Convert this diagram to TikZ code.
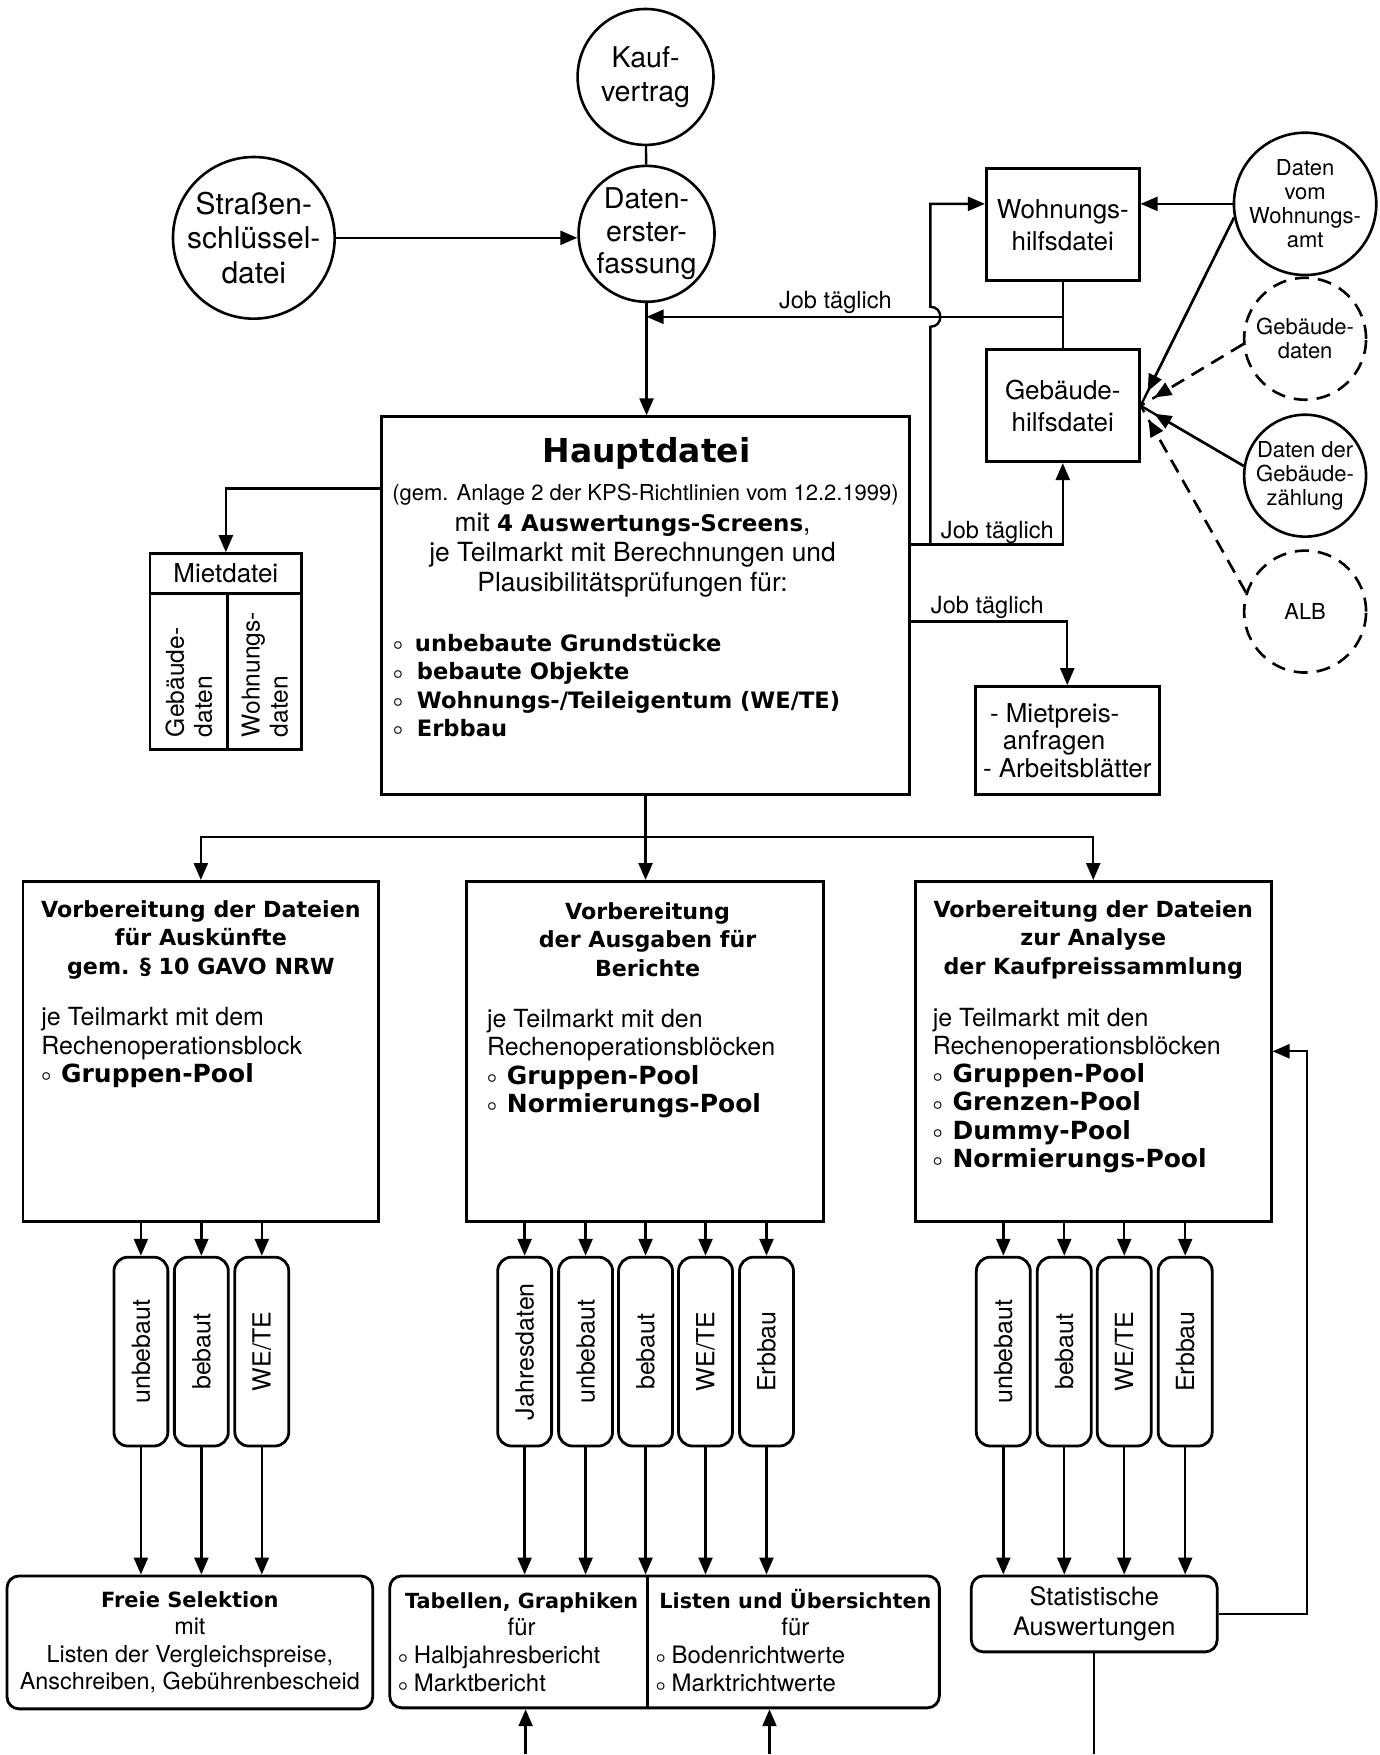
\documentclass[tikz,border=0pt]{standalone}
\usepackage{fontspec}
\usepackage{graphicx}
\setmainfont{TeX Gyre Heros}
\newfontfamily\dvs{DejaVu Sans}
\usepackage{tikz}
\usetikzlibrary{arrows.meta}

\newcommand{\fett}[1]{{\dvs\bfseries #1}}
\newcommand{\kreis}[1][4pt]{\raisebox{0.8pt}{\footnotesize\boldmath$\circ$}\hspace{#1}}
\newcommand{\pool}[1]{\kreis[5pt]{\fontsize{12.5}{14.1}\selectfont\fett{#1}}}

\begin{document}
\begin{tikzpicture}[x=0.5pt, y=-0.5pt,
  every node/.style={inner sep=0pt},
  rund/.style={circle, draw, line width=1.3pt, align=center},
  strichel/.style={dash pattern=on 7pt off 4.5pt},
  datei/.style={draw, line width=1.4pt, align=center},
  reiter/.style={draw, line width=1.4pt, rounded corners=7pt, minimum width=27pt, minimum height=94.5pt, font=\fontsize{12.5}{14}\selectfont},
  ausgabe/.style={draw, line width=1.4pt, rounded corners=6pt, align=center},
  kopf/.style={anchor=base, align=center, font=\dvs\bfseries\fontsize{11.1}{14.25}\selectfont},
  rumpf/.style={anchor=base west, align=left, font=\fontsize{12.5}{14.1}\selectfont},
  job/.style={anchor=base, font=\fontsize{11.8}{13}\selectfont},
  linie/.style={line width=1.2pt},
  flow/.style={linie, -{Triangle[length=8.5pt,width=7pt]}}
]
\path[fill=white] (0,0) rectangle (1380,1755);
% Erfassung
\node[rund, minimum size=68pt, font=\fontsize{14.3}{17}\selectfont] (kauf) at (646,77) {Kauf-\\vertrag};
\node[rund, minimum size=68pt, font=\fontsize{14.3}{16.3}\selectfont] (erfass) at (647,234) {Daten-\\erster-\\fassung};
\node[rund, minimum size=76pt, font=\fontsize{15}{17.2}\selectfont] (strasse) at (254,238) {Straßen-\\schlüssel-\\datei};
\draw[linie] (kauf) -- (erfass);
\draw[flow] (strasse.east) -- (strasse.east -| erfass.west);
% Hilfsdateien
\node[datei, minimum width=76.5pt, minimum height=56pt, font=\fontsize{13}{16}\selectfont] (whilf) at (1063.5,225) {Wohnungs-\\hilfsdatei};
\node[datei, minimum width=76.5pt, minimum height=56pt, font=\fontsize{13}{16}\selectfont] (ghilf) at (1063.5,406) {Gebäude-\\hilfsdatei};
\draw[linie] (whilf) -- (ghilf);
% externe Daten
\node[rund, minimum size=61pt, font=\fontsize{11}{12.1}\selectfont] (wamt) at (1306,204) {Daten\\vom\\Wohnungs-\\amt};
\node[rund, strichel, minimum size=61pt, font=\fontsize{11}{12.1}\selectfont] (gdat) at (1306,339) {Gebäude-\\daten};
\node[rund, minimum size=61pt, font=\fontsize{11}{12.1}\selectfont] (gzahl) at (1306,476) {Daten der\\Gebäude-\\zählung};
\node[rund, strichel, minimum size=61pt, font=\fontsize{11}{12.1}\selectfont] (alb) at (1306,612) {ALB};
\draw[flow] (wamt.west) -- (wamt.west -| whilf.east);
\foreach \q/\w/\s in {wamt/191/solid, gdat/185/strichel, gzahl/171/solid, alb/162/strichel} {
  \draw[linie, \s] (\q.\w) -- (ghilf.east);
  \draw[flow, \s, shorten >=8pt] (\q.\w) -- (ghilf.east);
}
% Hauptdatei
\node[datei, minimum width=264pt, minimum height=189pt] (haupt) at (646,606) {};
\node[anchor=base, font=\fontsize{16.5}{18}\selectfont] (hdtitel) at (647,463) {\fett{Hauptdatei}};
\node[anchor=base, font=\fontsize{11}{13}\selectfont] (hdgem) at (646,501) {(gem. Anlage 2 der KPS-Richtlinien vom 12.2.1999)};
\node[anchor=base, align=center, font=\fontsize{13.2}{15}\selectfont] (hdtext) at (633,592) {mit {\fontsize{11.5}{15}\selectfont\fett{4 Auswertungs-Screens}},\\je Teilmarkt mit Berechnungen und\\Plausibilitätsprüfungen für:};
\node[anchor=base west, align=left, font=\dvs\bfseries\fontsize{11.3}{14.2}\selectfont] (hdliste) at (393,737) {\kreis[6pt]unbebaute Grundstücke\\\kreis[7pt]bebaute Objekte\\\kreis[7pt]Wohnungs-/Teileigentum (WE/TE)\\\kreis[7pt]Erbbau};
\draw[flow] (erfass.south) -- (erfass.south |- haupt.north);
% Job taeglich
\coordinate (j1) at (1063.5,317);
\draw[flow] (j1) -- (erfass.south |- j1);
\node[job] (lj1) at (836,309) {Job täglich};
\coordinate (b0) at (931,545);
\coordinate (b1) at (931,327);
\coordinate (b2) at (931,307);
\coordinate (b3) at (931,204);
\draw[flow] (b0) -- (b1) .. controls (944.3,327) and (944.3,307) .. (b2) -- (b3) -- (b3 -| whilf.west);
\coordinate (j2) at ([yshift=30.5pt]haupt.east);
\draw[flow] (j2) -| (ghilf.south);
\node[job] (lj2) at (998,539) {Job täglich};
\coordinate (j3) at ([yshift=-8pt]haupt.east);
\node[datei, minimum width=92pt, minimum height=54pt, align=left, font=\fontsize{13}{13.75}\selectfont] (mietpreis) at (1068,741) {\hspace*{3.5pt}- Mietpreis-\\\hspace*{10pt}anfragen\\- Arbeitsblätter};
\draw[flow] (j3) -| (mietpreis.north);
\node[job] (lj3) at (988,614) {Job täglich};
% Mietdatei
\node[datei, minimum width=76pt, minimum height=20pt, font=\fontsize{13}{15}\selectfont] (mietkopf) at (226,574) {Mietdatei};
\node[datei, minimum width=39pt, minimum height=78pt] (mietgeb) at (189,672) {};
\node[datei, minimum width=37pt, minimum height=78pt] (mietwhg) at (265,672) {};
\node[rotate=90, anchor=west, align=left, font=\fontsize{12.3}{14}\selectfont] (tgeb) at (189,738) {Gebäude-\\daten};
\node[rotate=90, anchor=west, align=left, font=\fontsize{12.3}{14}\selectfont] (twhg) at (265,738) {Wohnungs-\\daten};
\coordinate (m1) at ([yshift=58.5pt]haupt.west);
\draw[flow] (m1) -| (mietkopf.north);
% Vorbereitung
\node[datei, minimum width=178pt, minimum height=170pt] (vorb1) at (201,1052) {};
\node[datei, minimum width=178.5pt, minimum height=170pt] (vorb2) at (645.5,1052) {};
\node[datei, minimum width=178pt, minimum height=170pt] (vorb3) at (1094,1052) {};
\coordinate (verteil) at ([yshift=-20.5pt]haupt.south);
\draw[linie] (haupt.south) -- (verteil);
\draw[flow] (verteil) -| (vorb1.north);
\draw[flow] (verteil) -- (verteil |- vorb2.north);
\draw[flow] (verteil) -| (vorb3.north);
\node[kopf] (k1) at (201,975) {Vorbereitung der Dateien\\für Auskünfte\\gem. § 10 GAVO NRW};
\node[kopf] (k2) at (648,977) {Vorbereitung\\der Ausgaben für\\Berichte};
\node[kopf] (k3) at (1094,975) {Vorbereitung der Dateien\\zur Analyse\\der Kaufpreissammlung};
\node[rumpf] (r1) at (41,1083) {je Teilmarkt mit dem\\Rechenoperationsblock\\\pool{Gruppen-Pool}};
\node[rumpf] (r2) at (487,1113) {je Teilmarkt mit den\\Rechenoperationsblöcken\\\pool{Gruppen-Pool}\\\pool{Normierungs-Pool}};
\node[rumpf] (r3) at (933,1168) {je Teilmarkt mit den\\Rechenoperationsblöcken\\\pool{Gruppen-Pool}\\\pool{Grenzen-Pool}\\\pool{Dummy-Pool}\\\pool{Normierungs-Pool}};
% Ausgaben
\node[ausgabe, minimum width=183pt, minimum height=66.5pt, font=\fontsize{11.7}{13.7}\selectfont] (frei) at (190,1643.5) {{\fontsize{10.5}{13.7}\selectfont\fett{Freie Selektion}}\\mit\\Listen der Vergleichspreise,\\Anschreiben, Gebührenbescheid};
\node[ausgabe, minimum width=275pt, minimum height=66pt] (tabelle) at (665,1643) {};
\draw[line width=1.4pt] (tabelle.north -| 648,0) -- (tabelle.south -| 648,0);
\node[anchor=base, align=center, font=\fontsize{12}{13.5}\selectfont] (tabl) at (522,1637) {{\fontsize{10.4}{13.5}\selectfont\fett{Tabellen, Graphiken}}\\für};
\node[anchor=base west, align=left, font=\fontsize{12}{14}\selectfont] (tabll) at (398,1693) {\kreis[3pt]Halbjahresbericht\\\kreis[3pt]Marktbericht};
\node[anchor=base, align=center, font=\fontsize{12}{13.5}\selectfont] (tabr) at (796,1637) {{\fontsize{10.4}{13.5}\selectfont\fett{Listen und Übersichten}}\\für};
\node[anchor=base west, align=left, font=\fontsize{12}{14}\selectfont] (tabrr) at (656,1693) {\kreis[3pt]Bodenrichtwerte\\\kreis[3pt]Marktrichtwerte};
\node[ausgabe, minimum width=123pt, minimum height=38pt, font=\fontsize{12.7}{15}\selectfont] (stat) at (1095,1615) {Statistische\\Auswertungen};
% Teilmaerkte
\foreach \x/\lab [count=\i] in {141/unbebaut, 201.5/bebaut, 262/{WE/TE}} {
  \node[reiter] (ra\i) at (\x,1352.5) {\rotatebox{90}{\lab}};
  \draw[flow] (vorb1.south -| ra\i) -- (ra\i.north);
  \draw[flow] (ra\i.south) -- (ra\i.south |- frei.north);
}
\foreach \x/\lab [count=\i] in {525/Jahresdaten, 586/unbebaut, 646/bebaut, 706/{WE/TE}, 767/Erbbau} {
  \node[reiter] (rb\i) at (\x,1352.5) {\rotatebox{90}{\lab}};
  \draw[flow] (vorb2.south -| rb\i) -- (rb\i.north);
  \draw[flow] (rb\i.south) -- (rb\i.south |- tabelle.north);
}
\foreach \x/\lab [count=\i] in {1004/unbebaut, 1065/bebaut, 1125/{WE/TE}, 1186/Erbbau} {
  \node[reiter] (rc\i) at (\x,1352.5) {\rotatebox{90}{\lab}};
  \draw[flow] (vorb3.south -| rc\i) -- (rc\i.north);
  \draw[flow] (rc\i.south) -- (rc\i.south |- stat.north);
}
% Rueckfuehrung und Zulaeufe unten
\coordinate (rueck) at (1308,1052);
\draw[flow] (stat.east) -| (rueck) -- (vorb3.east);
\coordinate (unten1) at (526,1755);
\coordinate (unten2) at (770,1755);
\coordinate (unten3) at (1094,1755);
\draw[flow] (unten1) -- (unten1 |- tabelle.south);
\draw[flow] (unten2) -- (unten2 |- tabelle.south);
\draw[linie] (stat.south) -- (stat.south |- unten3);
\end{tikzpicture}
\end{document}
